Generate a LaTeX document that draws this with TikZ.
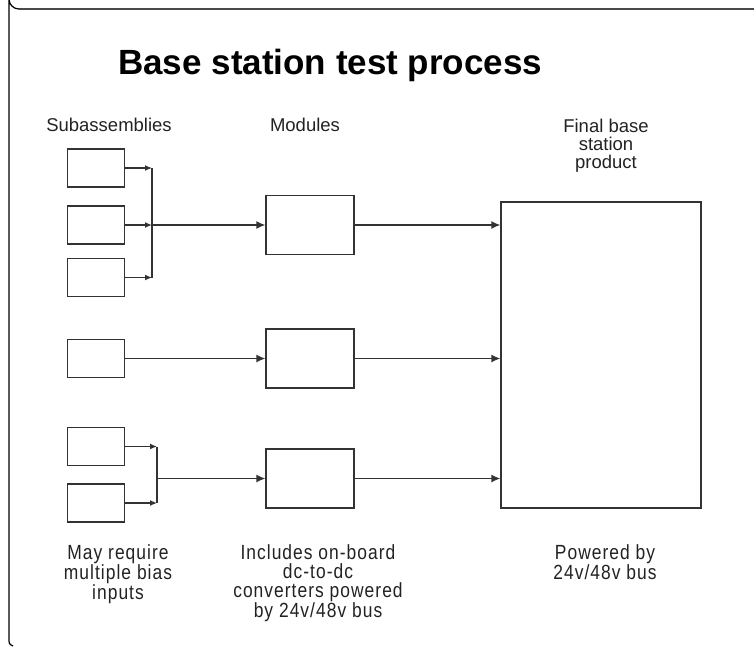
\documentclass[tikz,border=0pt]{standalone}
\usepackage{fontspec}
\setmainfont{Liberation Sans}
\newfontfamily\condfont[FakeStretch=0.85,LetterSpace=5]{Liberation Sans}
\usetikzlibrary{arrows.meta}
\definecolor{linegray}{HTML}{333333}
\definecolor{framegray}{HTML}{4A4A4A}
\definecolor{textgray}{HTML}{222222}
\tikzstyle{wire}=[draw=linegray, line width=1.3pt]
\tikzstyle{flow}=[wire, -{Latex[length=9pt,width=8pt]}]
\tikzstyle{feed}=[wire, -{Latex[length=7pt,width=6pt]}]
\tikzstyle{unit}=[wire, inner sep=0pt]
\tikzstyle{subunit}=[unit, minimum width=57pt, minimum height=38pt]
\tikzstyle{modunit}=[unit, minimum width=88pt, minimum height=59pt]
\tikzstyle{finalunit}=[unit, minimum width=200pt, minimum height=306pt]
\tikzstyle{heading}=[font=\fontsize{18.5}{18}\selectfont, text=textgray, inner sep=0pt, align=center]
\tikzstyle{headline}=[heading, font=\bfseries\fontsize{35}{40}\selectfont, text=black]
\tikzstyle{note}=[font=\condfont\fontsize{20.5}{19}\selectfont, text=textgray, inner sep=0pt, align=center]

\begin{document}
\begin{tikzpicture}[x=1pt, y=-1pt]
    \useasboundingbox (0,0) rectangle (754,646);
    \draw[line width=2pt, draw=framegray] (19,9) -- (754,9);
    \draw[line width=1.2pt] (19,9) arc[start angle=90, end angle=180, radius=10] -- (9,638) .. controls (9,644) .. (13,646);

    \node[headline, anchor=base west]     (title) at (118,74) {Base station test process};
    \node[heading, anchor=base]           (subhead) at (109,131) {Subassemblies};
    \node[heading, anchor=base]           (modhead) at (305,131) {Modules};
    \node[heading, anchor=north]          (finalhead) at (606,119) {Final base\\station\\product};

    \node[subunit]   (sub1) at (96,168) {};
    \node[subunit]   (sub2) at (96,225) {};
    \node[subunit]   (sub3) at (96,277.5) {};
    \node[subunit]   (sub4) at (96,358.5) {};
    \node[subunit]   (sub5) at (96,446.5) {};
    \node[subunit]   (sub6) at (96,503) {};
    \node[modunit]   (mod1) at (310,225) {};
    \node[modunit]   (mod2) at (310,358.5) {};
    \node[modunit]   (mod3) at (310,478.5) {};
    \node[finalunit] (final) at (601,355) {};

    \coordinate (j1) at (152,225);
    \coordinate (j2) at (157,478.5);
    \draw[feed] (sub1) -- (sub1 -| j1);
    \draw[feed] (sub2) -- (sub2 -| j1);
    \draw[feed] (sub3) -- (sub3 -| j1);
    \draw[wire] (sub1 -| j1) -- (sub3 -| j1);
    \draw[flow] (j1) -- (mod1);
    \draw[flow] (sub4) -- (mod2);
    \draw[feed] (sub5) -- (sub5 -| j2);
    \draw[feed] (sub6) -- (sub6 -| j2);
    \draw[wire] (sub5 -| j2) -- (sub6 -| j2);
    \draw[flow] (j2) -- (mod3);
    \draw[flow] (mod1) -- (mod1 -| final.west);
    \draw[flow] (mod2) -- (mod2 -| final.west);
    \draw[flow] (mod3) -- (mod3 -| final.west);

    \node[note, anchor=north] (subnote) at (118,544) {May require\\multiple bias\\inputs};
    \node[note, anchor=north] (modnote) at (318,544) {Includes on-board\\dc-to-dc\\converters powered\\by 24v/48v bus};
    \node[note, anchor=north] (finalnote) at (605,544) {Powered by\\24v/48v bus};
\end{tikzpicture}
\end{document}
